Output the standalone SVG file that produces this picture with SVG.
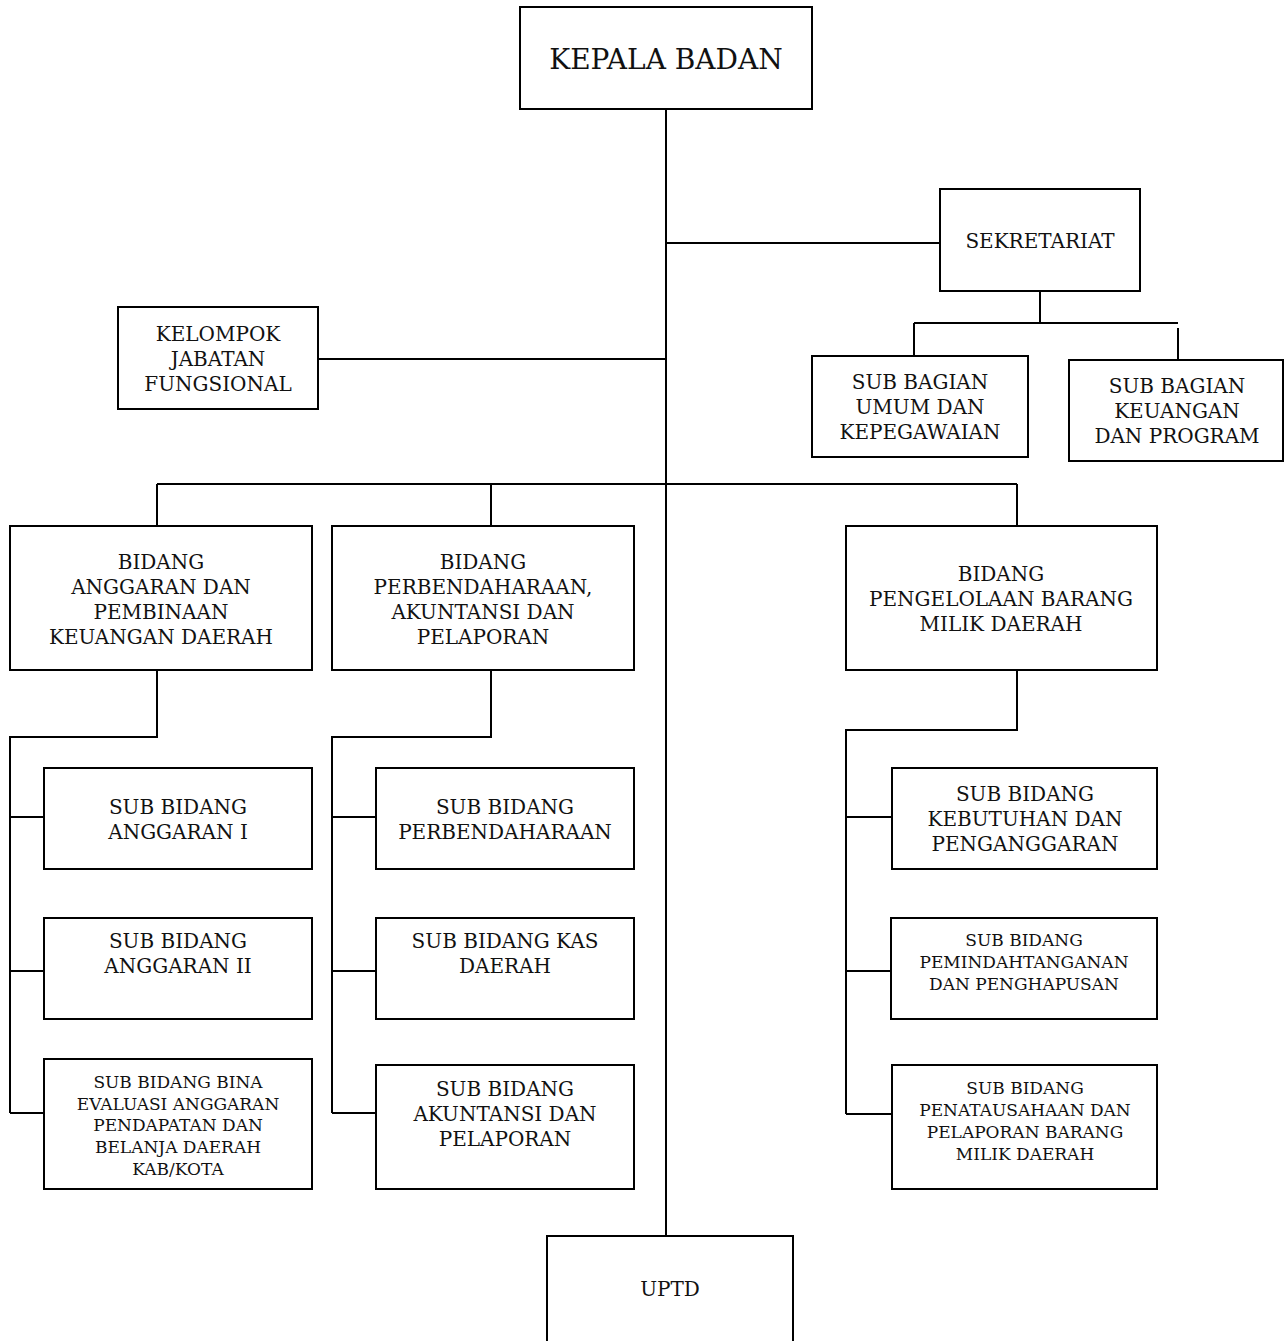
<svg xmlns="http://www.w3.org/2000/svg" width="1284" height="1341" viewBox="0 0 1284 1341">
<style>
rect{fill:#fff;stroke:#000;stroke-width:2}
.c line,.c path{stroke:#000;stroke-width:2;fill:none}
text{font-family:"DejaVu Serif","Liberation Serif",serif;font-size:20px;fill:#111;text-anchor:middle}
.s text{font-size:17px}
</style>
<rect x="0" y="0" width="1284" height="1341" style="stroke:none"/>
<g class="c" id="connectors">
<line x1="666" y1="109" x2="666" y2="1236"/>
<line x1="666" y1="243" x2="940" y2="243"/>
<line x1="318" y1="359" x2="666" y2="359"/>
<line x1="1040" y1="291" x2="1040" y2="323"/>
<line x1="914" y1="323" x2="1178" y2="323"/>
<line x1="914" y1="323" x2="914" y2="356"/>
<line x1="1178" y1="328" x2="1178" y2="360"/>
<line x1="157" y1="484" x2="1017" y2="484"/>
<line x1="157" y1="484" x2="157" y2="526"/>
<line x1="491" y1="484" x2="491" y2="526"/>
<line x1="1017" y1="484" x2="1017" y2="526"/>
<path d="M157 670V737H10V1113"/>
<line x1="10" y1="817" x2="44" y2="817"/>
<line x1="10" y1="971" x2="44" y2="971"/>
<line x1="10" y1="1113" x2="44" y2="1113"/>
<path d="M491 670V737H332V1113"/>
<line x1="332" y1="817" x2="376" y2="817"/>
<line x1="332" y1="971" x2="376" y2="971"/>
<line x1="332" y1="1113" x2="376" y2="1113"/>
<path d="M1017 670V730H846V1114"/>
<line x1="846" y1="817" x2="892" y2="817"/>
<line x1="846" y1="971" x2="891" y2="971"/>
<line x1="846" y1="1114" x2="892" y2="1114"/>
</g>
<g id="kepala-badan"><rect x="520" y="7" width="292" height="102"/><text x="666" y="69" style="font-size:28px">KEPALA BADAN</text></g>
<g id="sekretariat"><rect x="940" y="189" width="200" height="102"/><text x="1040" y="248">SEKRETARIAT</text></g>
<g id="kelompok-jabatan-fungsional"><rect x="118" y="307" width="200" height="102"/><text x="218" y="341">KELOMPOK</text><text x="218" y="366">JABATAN</text><text x="218" y="391">FUNGSIONAL</text></g>
<g id="sub-bagian-umum"><rect x="812" y="356" width="216" height="101"/><text x="920" y="389">SUB BAGIAN</text><text x="920" y="414">UMUM DAN</text><text x="920" y="439">KEPEGAWAIAN</text></g>
<g id="sub-bagian-keuangan"><rect x="1069" y="360" width="214" height="101"/><text x="1177" y="393">SUB BAGIAN</text><text x="1177" y="418">KEUANGAN</text><text x="1177" y="443">DAN PROGRAM</text></g>
<g id="bidang-anggaran"><rect x="10" y="526" width="302" height="144"/><text x="161" y="569">BIDANG</text><text x="161" y="594">ANGGARAN DAN</text><text x="161" y="619">PEMBINAAN</text><text x="161" y="644">KEUANGAN DAERAH</text></g>
<g id="bidang-perbendaharaan"><rect x="332" y="526" width="302" height="144"/><text x="483" y="569">BIDANG</text><text x="483" y="594">PERBENDAHARAAN,</text><text x="483" y="619">AKUNTANSI DAN</text><text x="483" y="644">PELAPORAN</text></g>
<g id="bidang-pengelolaan"><rect x="846" y="526" width="311" height="144"/><text x="1001" y="581">BIDANG</text><text x="1001" y="606">PENGELOLAAN BARANG</text><text x="1001" y="631">MILIK DAERAH</text></g>
<g id="sub-bidang-anggaran-1"><rect x="44" y="768" width="268" height="101"/><text x="178" y="814">SUB BIDANG</text><text x="178" y="839">ANGGARAN I</text></g>
<g id="sub-bidang-anggaran-2"><rect x="44" y="918" width="268" height="101"/><text x="178" y="948">SUB BIDANG</text><text x="178" y="973">ANGGARAN II</text></g>
<g id="sub-bidang-bina" class="s"><rect x="44" y="1059" width="268" height="130"/><text x="178" y="1088">SUB BIDANG BINA</text><text x="178" y="1110">EVALUASI ANGGARAN</text><text x="178" y="1131">PENDAPATAN DAN</text><text x="178" y="1153">BELANJA DAERAH</text><text x="178" y="1175">KAB/KOTA</text></g>
<g id="sub-bidang-perbendaharaan"><rect x="376" y="768" width="258" height="101"/><text x="505" y="814">SUB BIDANG</text><text x="505" y="839">PERBENDAHARAAN</text></g>
<g id="sub-bidang-kas-daerah"><rect x="376" y="918" width="258" height="101"/><text x="505" y="948">SUB BIDANG KAS</text><text x="505" y="973">DAERAH</text></g>
<g id="sub-bidang-akuntansi"><rect x="376" y="1065" width="258" height="124"/><text x="505" y="1096">SUB BIDANG</text><text x="505" y="1121">AKUNTANSI DAN</text><text x="505" y="1146">PELAPORAN</text></g>
<g id="sub-bidang-kebutuhan"><rect x="892" y="768" width="265" height="101"/><text x="1025" y="801">SUB BIDANG</text><text x="1025" y="826">KEBUTUHAN DAN</text><text x="1025" y="851">PENGANGGARAN</text></g>
<g id="sub-bidang-pemindahtanganan" class="s"><rect x="891" y="918" width="266" height="101"/><text x="1024" y="946">SUB BIDANG</text><text x="1024" y="968">PEMINDAHTANGANAN</text><text x="1024" y="990">DAN PENGHAPUSAN</text></g>
<g id="sub-bidang-penatausahaan" class="s"><rect x="892" y="1065" width="265" height="124"/><text x="1025" y="1094">SUB BIDANG</text><text x="1025" y="1116">PENATAUSAHAAN DAN</text><text x="1025" y="1138">PELAPORAN BARANG</text><text x="1025" y="1160">MILIK DAERAH</text></g>
<g id="uptd"><rect x="547" y="1236" width="246" height="120"/><text x="670" y="1296">UPTD</text></g>
</svg>
